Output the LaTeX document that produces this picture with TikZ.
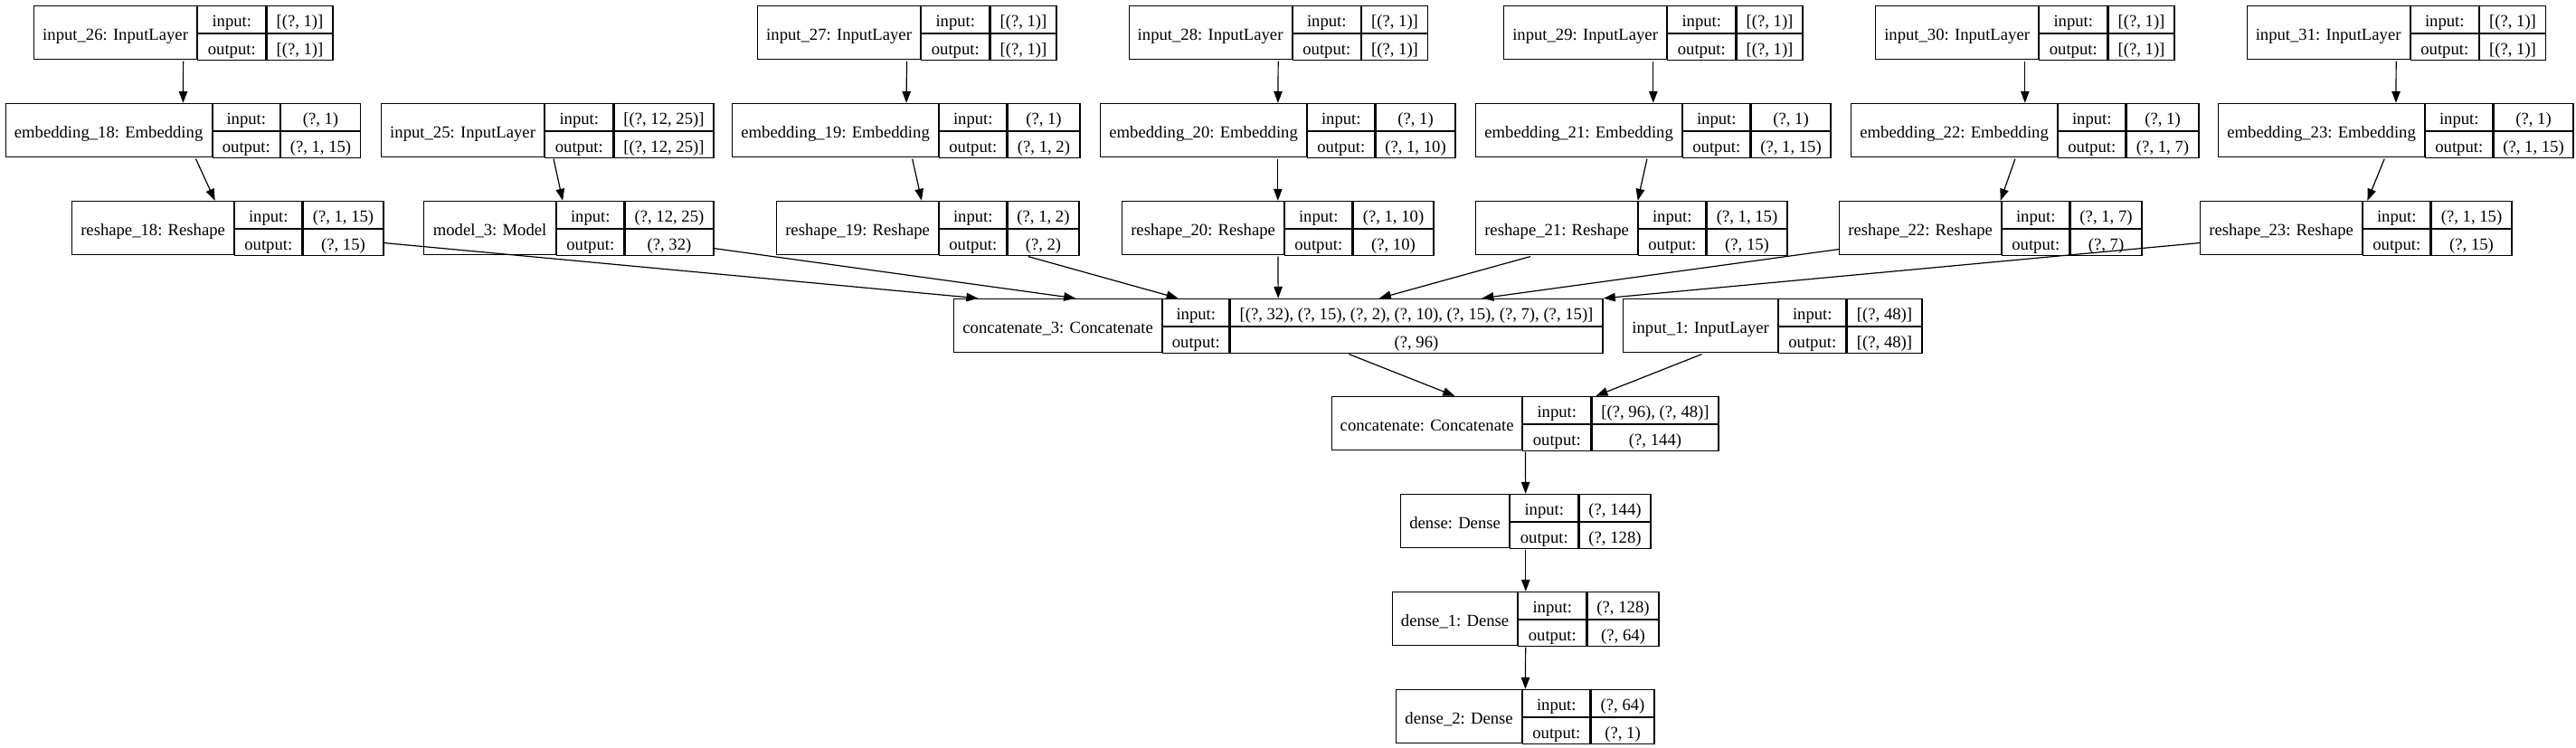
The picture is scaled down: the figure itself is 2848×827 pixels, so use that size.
\documentclass[tikz,border=0pt]{standalone}
\usepackage{fontspec}
\setmainfont{Liberation Serif}
\usepackage{tikz}
\usetikzlibrary{positioning, arrows.meta, fit}
\newcommand{\lfont}{\fontsize{18.67pt}{20pt}\selectfont}
\tikzstyle{layername} = [rectangle, draw=black, line width=1.2pt, inner sep=0pt, minimum height=59pt, text height=17pt, text depth=0.6pt, font=\lfont]
\tikzstyle{shapecell} = [rectangle, draw=black, line width=1.2pt, inner sep=0pt, minimum height=29.5pt, text height=17pt, text depth=0.6pt, font=\lfont]
\tikzstyle{arrow} = [line width=1.2pt, -{Triangle[length=13pt,width=9.5pt]}]
% one keras record: name | input:/output: | shapes
\newcommand{\klayer}[9]{%
  \node (#1-n) [layername, minimum width=#4pt, anchor=north west] at (#2,#3) {#7};
  \node (#1-il) [shapecell, minimum width=#5pt, below right=0pt of #1-n.north east] {input:};
  \node (#1-iv) [shapecell, minimum width=#6pt, right=0pt of #1-il] {#8};
  \node (#1-ol) [shapecell, minimum width=#5pt, below=0pt of #1-il] {output:};
  \node (#1-ov) [shapecell, minimum width=#6pt, below=0pt of #1-iv] {#9};
  \node (#1) [fit=(#1-n)(#1-ov), inner sep=0pt] {};
}

\begin{document}
\begin{tikzpicture}[x=1pt, y=-1pt]
		\useasboundingbox (0,0) rectangle (2848,827);
		\klayer{in26}{37}{6}{180}{75}{73}{input\_26: InputLayer}{[(?, 1)]}{[(?, 1)]}
		\klayer{in27}{837}{6}{180}{75}{73}{input\_27: InputLayer}{[(?, 1)]}{[(?, 1)]}
		\klayer{in28}{1247.5}{6}{180}{75}{73}{input\_28: InputLayer}{[(?, 1)]}{[(?, 1)]}
		\klayer{in29}{1662}{6}{180}{75}{73}{input\_29: InputLayer}{[(?, 1)]}{[(?, 1)]}
		\klayer{in30}{2073}{6}{180}{75}{73}{input\_30: InputLayer}{[(?, 1)]}{[(?, 1)]}
		\klayer{in31}{2483.5}{6}{180}{75}{73}{input\_31: InputLayer}{[(?, 1)]}{[(?, 1)]}
		\klayer{emb18}{5.5}{114}{228}{74}{88}{embedding\_18: Embedding}{(?, 1)}{(?, 1, 15)}
		\klayer{in25}{421}{114}{180}{75}{110}{input\_25: InputLayer}{[(?, 12, 25)]}{[(?, 12, 25)]}
		\klayer{emb19}{809}{114}{228}{74}{80}{embedding\_19: Embedding}{(?, 1)}{(?, 1, 2)}
		\klayer{emb20}{1216}{114}{228}{74}{88}{embedding\_20: Embedding}{(?, 1)}{(?, 1, 10)}
		\klayer{emb21}{1631}{114}{228}{74}{88}{embedding\_21: Embedding}{(?, 1)}{(?, 1, 15)}
		\klayer{emb22}{2046}{114}{228}{74}{80}{embedding\_22: Embedding}{(?, 1)}{(?, 1, 7)}
		\klayer{emb23}{2452}{114}{228}{74}{88}{embedding\_23: Embedding}{(?, 1)}{(?, 1, 15)}
		\klayer{res18}{79}{222}{179}{74}{89}{reshape\_18: Reshape}{(?, 1, 15)}{(?, 15)}
		\klayer{mod3}{468}{222}{146}{74}{98}{model\_3: Model}{(?, 12, 25)}{(?, 32)}
		\klayer{res19}{858}{222}{179}{74}{79}{reshape\_19: Reshape}{(?, 1, 2)}{(?, 2)}
		\klayer{res20}{1240}{222}{179}{74}{89}{reshape\_20: Reshape}{(?, 1, 10)}{(?, 10)}
		\klayer{res21}{1631}{222}{179}{74}{89}{reshape\_21: Reshape}{(?, 1, 15)}{(?, 15)}
		\klayer{res22}{2033}{222}{179}{74}{79}{reshape\_22: Reshape}{(?, 1, 7)}{(?, 7)}
		\klayer{res23}{2432}{222}{179}{74}{89}{reshape\_23: Reshape}{(?, 1, 15)}{(?, 15)}
		\klayer{cat3}{1054}{330}{230}{73}{412}{concatenate\_3: Concatenate}{[(?, 32), (?, 15), (?, 2), (?, 10), (?, 15), (?, 7), (?, 15)]}{(?, 96)}
		\klayer{in1}{1794}{330}{171}{74}{83}{input\_1: InputLayer}{[(?, 48)]}{[(?, 48)]}
		\klayer{cat}{1472}{438}{210}{75}{140}{concatenate: Concatenate}{[(?, 96), (?, 48)]}{(?, 144)}
		\klayer{den}{1548}{546}{120}{75}{79}{dense: Dense}{(?, 144)}{(?, 128)}
		\klayer{den1}{1539}{654}{138}{75}{79}{dense\_1: Dense}{(?, 128)}{(?, 64)}
		\klayer{den2}{1543}{762}{139}{74}{70}{dense\_2: Dense}{(?, 64)}{(?, 1)}
		\draw [arrow](in26) -- (emb18);
		\draw [arrow](in27) -- (emb19);
		\draw [arrow](in28) -- (emb20);
		\draw [arrow](in29) -- (emb21);
		\draw [arrow](in30) -- (emb22);
		\draw [arrow](in31) -- (emb23);
		\draw [arrow](emb18) -- (res18);
		\draw [arrow](in25) -- (mod3);
		\draw [arrow](emb19) -- (res19);
		\draw [arrow](emb20) -- (res20);
		\draw [arrow](emb21) -- (res21);
		\draw [arrow](emb22) -- (res22);
		\draw [arrow](emb23) -- (res23);
		\draw [arrow](res18) -- (cat3);
		\draw [arrow](mod3) -- (cat3);
		\draw [arrow](res19) -- (cat3);
		\draw [arrow](res20) -- (cat3);
		\draw [arrow](res21) -- (cat3);
		\draw [arrow](res22) -- (cat3);
		\draw [arrow](res23) -- (cat3.north east);
		\draw [arrow](cat3) -- (cat);
		\draw [arrow](in1) -- (cat);
		\draw [arrow](cat) -- (den);
		\draw [arrow](den) -- (den1);
		\draw [arrow](den1) -- (den2);
	\end{tikzpicture}
\end{document}
